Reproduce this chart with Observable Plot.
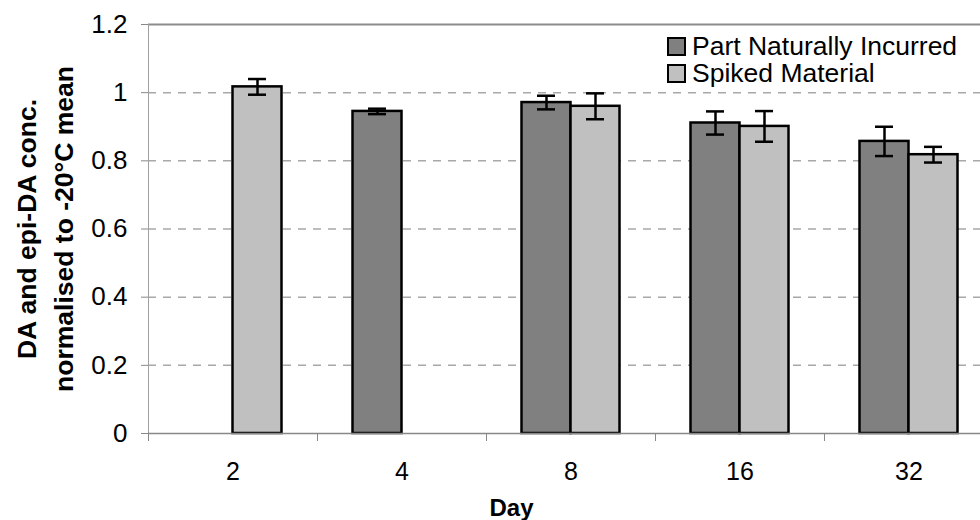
<!DOCTYPE html>
<html>
<head>
<meta charset="utf-8">
<script src="https://cdn.jsdelivr.net/npm/d3@7"></script>
<script src="https://cdn.jsdelivr.net/npm/@observablehq/plot@0.6"></script>
<style>
  body { margin: 0; background: #fff; font-family: "Liberation Sans", Arial, sans-serif; }
  #wrap { position: relative; width: 980px; height: 520px; overflow: hidden; }
  #legend { position: absolute; left: 667px; top: 33px; font-size: 26.5px; color: #000; }
  .row { display: flex; align-items: center; height: 27px; white-space: nowrap; }
  .sw { width: 19px; height: 19px; box-sizing: border-box; border: 2.5px solid #000; margin-right: 6px; flex: none; }
</style>
</head>
<body>
<div id="wrap"><div id="legend"></div></div>
<script>
// ---- data ----
const days = ["2", "4", "8", "16", "32"];
const seriesNames = ["Part Naturally Incurred", "Spiked Material"];
const seriesColors = ["#808080", "#c0c0c0"];

const naturalDays = ["4", "8", "16", "32"];
const naturalMean = [0.945, 0.971, 0.911, 0.857];
const naturalErr  = [0.008, 0.020, 0.034, 0.043];

const spikedDays = ["2", "8", "16", "32"];
const spikedMean = [1.017, 0.960, 0.901, 0.818];
const spikedErr  = [0.023, 0.038, 0.045, 0.023];

const yTicks = [0, 0.2, 0.4, 0.6, 0.8, 1, 1.2];
const gridTicks = [0.2, 0.4, 0.6, 0.8, 1];
const yTitle = "DA and epi-DA conc.\nnormalised to -20°C mean";
const xTitle = "Day";

// ---- build tables ----
const natural = naturalDays.map((d, i) => ({day: d, value: naturalMean[i], err: naturalErr[i]}));
const spiked  = spikedDays.map((d, i) => ({day: d, value: spikedMean[i], err: spikedErr[i]}));

// layout (styling only)
const left = 148, bandRight = 993;
const step = (bandRight - left) / days.length;   // band width
const barW = 49;                                 // bar width
const capHalf = 9;
const sw = 2.5;
const innerL = step / 2 - barW;                  // inset to first bar
const natCenter = step / 2 - barW / 2;           // centre offset of natural bar inside band
const spkCenter = step / 2 + barW / 2;

const chart = Plot.plot({
  width: 980,
  height: 520,
  marginLeft: left,
  marginRight: 0,
  marginTop: 24,
  marginBottom: 87,
  style: {fontFamily: "'Liberation Sans', Arial, sans-serif", background: "white", color: "black", overflow: "visible"},
  x: {type: "band", domain: days, range: [left, bandRight], padding: 0, round: false, axis: null, label: null},
  y: {domain: [0, 1.2], axis: null, label: null},
  marks: [
    // dashed gridlines
    Plot.ruleY(gridTicks, {stroke: "#a8a8a8", strokeWidth: 1.5, strokeDasharray: "8,7"}),
    // top border line at 1.2
    Plot.ruleY([1.2], {stroke: "#8c8c8c", strokeWidth: 2}),
    // y axis line
    Plot.frame({anchor: "left", stroke: "#a0a0a0", strokeWidth: 1}),
    // y axis ticks + labels
    Plot.axisY(yTicks, {label: null, tickSize: 7, tickPadding: 14, fontSize: 26, stroke: "#888", fill: "black", tickFormat: d => String(d)}),
    // x axis category boundary ticks
    Plot.axisX(days, {label: null, tickSize: 8, dx: -step / 2, stroke: "#888", tickFormat: () => ""}),
    // x axis labels
    Plot.axisX(days, {label: null, tickSize: 0, tickPadding: 29, fontSize: 25, fill: "black"}),
    // bars
    Plot.barY(natural, {x: "day", y: "value", fill: seriesColors[0], stroke: "black", strokeWidth: sw,
      insetLeft: innerL, insetRight: step - innerL - barW}),
    Plot.barY(spiked, {x: "day", y: "value", fill: seriesColors[1], stroke: "black", strokeWidth: sw,
      insetLeft: innerL + barW, insetRight: step - innerL - 2 * barW}),
    // baseline
    Plot.ruleY([0], {stroke: "#888", strokeWidth: 1.5}),
    // error bars
    Plot.ruleX(natural, {x: "day", y1: d => d.value - d.err, y2: d => d.value + d.err, dx: natCenter - step / 2, stroke: "black", strokeWidth: sw}),
    Plot.tickY(natural, {x: "day", y: d => d.value - d.err, insetLeft: natCenter - capHalf, insetRight: step - natCenter - capHalf, stroke: "black", strokeWidth: sw}),
    Plot.tickY(natural, {x: "day", y: d => d.value + d.err, insetLeft: natCenter - capHalf, insetRight: step - natCenter - capHalf, stroke: "black", strokeWidth: sw}),
    Plot.ruleX(spiked, {x: "day", y1: d => d.value - d.err, y2: d => d.value + d.err, dx: spkCenter - step / 2, stroke: "black", strokeWidth: sw}),
    Plot.tickY(spiked, {x: "day", y: d => d.value - d.err, insetLeft: spkCenter - capHalf, insetRight: step - spkCenter - capHalf, stroke: "black", strokeWidth: sw}),
    Plot.tickY(spiked, {x: "day", y: d => d.value + d.err, insetLeft: spkCenter - capHalf, insetRight: step - spkCenter - capHalf, stroke: "black", strokeWidth: sw}),
    // axis titles
    Plot.text([yTitle], {frameAnchor: "left", textAnchor: "middle", lineAnchor: "middle", rotate: -90, dx: -106, fontSize: 26.5, fontWeight: "bold", lineHeight: 1.4, fill: "black"}),
    Plot.text([xTitle], {frameAnchor: "bottom", textAnchor: "middle", lineAnchor: "middle", dx: -53, dy: 75, fontSize: 24, fontWeight: "bold", fill: "black"})
  ]
});

const wrap = document.getElementById("wrap");
wrap.insertBefore(chart, wrap.firstChild);

// legend
const legend = d3.select("#legend");
seriesNames.forEach((name, i) => {
  const row = legend.append("div").attr("class", "row");
  row.append("div").attr("class", "sw").style("background", seriesColors[i]);
  row.append("span").text(name);
});
</script>
</body>
</html>
